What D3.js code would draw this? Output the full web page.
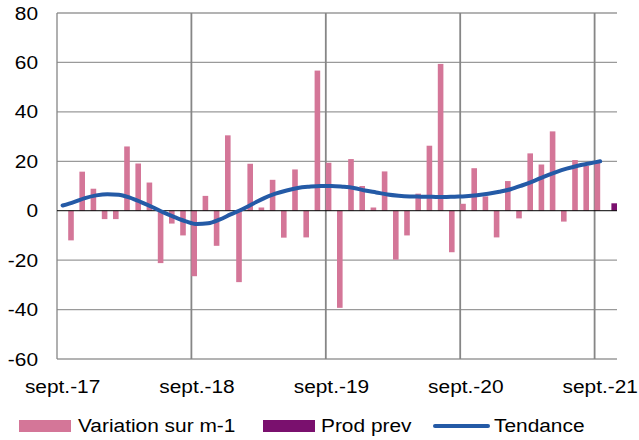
<!DOCTYPE html>
<html><head><meta charset="utf-8">
<script src="https://cdn.jsdelivr.net/npm/d3@7"></script>
<style>body{margin:0;background:#fff}svg{display:block}text{font-family:"Liberation Sans",Arial,sans-serif;fill:#000}</style>
</head><body><svg id="c" width="639" height="440"></svg>
<script>
const months = ["sept.-17","oct.-17","nov.-17","déc.-17","janv.-18","févr.-18","mars-18","avr.-18","mai-18","juin-18","juil.-18","août-18",
"sept.-18","oct.-18","nov.-18","déc.-18","janv.-19","févr.-19","mars-19","avr.-19","mai-19","juin-19","juil.-19","août-19",
"sept.-19","oct.-19","nov.-19","déc.-19","janv.-20","févr.-20","mars-20","avr.-20","mai-20","juin-20","juil.-20","août-20",
"sept.-20","oct.-20","nov.-20","déc.-20","janv.-21","févr.-21","mars-21","avr.-21","mai-21","juin-21","juil.-21","août-21",
"sept.-21","oct.-21"];
const variation = [null,-12.0,15.8,8.9,-3.4,-3.4,26.0,19.1,11.4,-21.2,-5.2,-10.0,
-26.5,6.0,-14.2,30.5,-28.9,19.0,1.3,12.5,-10.9,16.7,-10.8,56.7,
19.4,-39.3,20.9,10.0,1.3,15.9,-19.8,-10.0,6.9,26.3,59.4,-16.8,
2.8,17.2,5.8,-10.8,12.0,-3.1,23.2,18.7,32.1,-4.4,20.5,18.2,
19.5,null];
const prodPrev = [null,null,null,null,null,null,null,null,null,null,null,null,
null,null,null,null,null,null,null,null,null,null,null,null,
null,null,null,null,null,null,null,null,null,null,null,null,
null,null,null,null,null,null,null,null,null,null,null,null,
null,3.0];
const tendance = [2.1,3.5,5.1,6.2,6.7,6.5,5.3,3.5,1.5,-0.7,-2.6,-4.3,
-5.4,-5.1,-3.6,-1.5,0.5,2.8,5.1,6.9,8.2,9.2,9.7,10.0,
10.0,9.7,9.2,8.2,7.4,6.6,6.1,5.8,5.7,5.6,5.5,5.7,
5.9,6.3,6.9,7.7,8.7,10.2,11.9,13.8,15.5,17.0,18.2,19.1,
20.0,null];
const xTickLabels = ["sept.-17","sept.-18","sept.-19","sept.-20","sept.-21"];
const yTicks = [-60,-40,-20,0,20,40,60,80];
const legendLabels = ["Variation sur m-1","Prod prev","Tendance"];

const PINK="#d47698", PURPLE="#7a106e", BLUE="#245aa6";
const SX=1.16;
const svg=d3.select("#c");
const L=57,R=617,T=13,B=359;
const x=d3.scaleBand().domain(months).range([L,R]).padding(0);
const bw=x.bandwidth();
const y=d3.scaleLinear().domain([-60,80]).range([B,T]);

// horizontal gridlines
svg.append("g").selectAll("line").data(yTicks.filter(v=>v!==0)).join("line")
 .attr("x1",L).attr("x2",R).attr("y1",d=>y(d)).attr("y2",d=>y(d))
 .attr("stroke","#9a9a9a").attr("stroke-width",1.3);
// vertical gridlines at sept boundaries
svg.append("g").selectAll("line").data(xTickLabels).join("line")
 .attr("x1",d=>x(d)).attr("x2",d=>x(d)).attr("y1",T).attr("y2",B)
 .attr("stroke","#868686").attr("stroke-width",d=>d===xTickLabels[0]?1.3:1.8);

// bars
svg.append("g").selectAll("rect").data(months.map((m,i)=>({m,v:variation[i]})).filter(d=>d.v!=null)).join("rect")
 .attr("x",d=>x(d.m)).attr("width",bw/2)
 .attr("y",d=>y(Math.max(0,d.v))).attr("height",d=>Math.abs(y(d.v)-y(0)))
 .attr("fill",PINK);
svg.append("g").selectAll("rect").data(months.map((m,i)=>({m,v:prodPrev[i]})).filter(d=>d.v!=null)).join("rect")
 .attr("x",d=>x(d.m)+bw/2).attr("width",bw/2)
 .attr("y",d=>y(Math.max(0,d.v))).attr("height",d=>Math.abs(y(d.v)-y(0)))
 .attr("fill",PURPLE);

// zero line
svg.append("line").attr("x1",L).attr("x2",R).attr("y1",y(0)).attr("y2",y(0)).attr("stroke","#000").attr("stroke-width",1);

// trend line
const line=d3.line().defined(d=>d.v!=null).x(d=>x(d.m)+bw/2).y(d=>y(d.v)).curve(d3.curveMonotoneX);
svg.append("path").datum(months.map((m,i)=>({m,v:tendance[i]}))).attr("d",line)
 .attr("fill","none").attr("stroke",BLUE).attr("stroke-width",4).attr("stroke-linecap","round");

function stext(px,py,str,anchor){
 const g=svg.append("g").attr("transform",`translate(${px},${py}) scale(${SX},1)`);
 g.append("text").attr("text-anchor",anchor||"start").attr("font-size",18).text(str);
}
// y labels
yTicks.forEach(v=>stext(38,y(v)+6.5,String(v),"end"));
// x labels
xTickLabels.forEach(l=>stext(x(l)+bw/2,393,l,"middle"));

// legend
svg.append("rect").attr("x",19).attr("y",420).attr("width",52).attr("height",12).attr("fill",PINK);
stext(78,432,legendLabels[0]);
svg.append("rect").attr("x",263).attr("y",420).attr("width",52).attr("height",12).attr("fill",PURPLE);
stext(321,432,legendLabels[1]);
svg.append("line").attr("x1",435).attr("x2",488).attr("y1",426).attr("y2",426).attr("stroke",BLUE).attr("stroke-width",4).attr("stroke-linecap","round");
stext(494,432,legendLabels[2]);
</script></body></html>
